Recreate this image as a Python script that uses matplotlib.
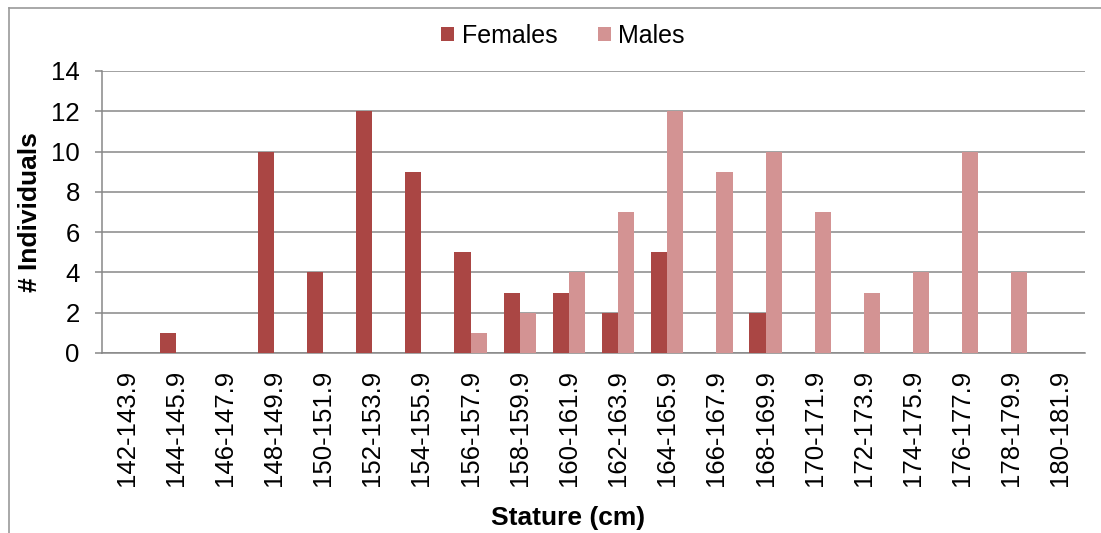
import numpy as np
import matplotlib
matplotlib.use("Agg")
import matplotlib.pyplot as plt
from matplotlib.lines import Line2D

plt.rcParams['font.family'] = ['Liberation Sans', 'DejaVu Sans']

# rangos de estatura (cm)
categorias = ["142-143.9", "144-145.9", "146-147.9", "148-149.9", "150-151.9",
              "152-153.9", "154-155.9", "156-157.9", "158-159.9", "160-161.9",
              "162-163.9", "164-165.9", "166-167.9", "168-169.9", "170-171.9",
              "172-173.9", "174-175.9", "176-177.9", "178-179.9", "180-181.9"]
mujeres = [0, 1, 0, 10, 4, 12, 9, 5, 3, 3, 2, 5, 0, 2, 0, 0, 0, 0, 0, 0]
hombres = [0, 0, 0, 0, 0, 0, 0, 1, 2, 4, 7, 12, 9, 10, 7, 3, 4, 10, 4, 0]
yticks = [0, 2, 4, 6, 8, 10, 12, 14]

color_f = '#AA4644'
color_m = '#D39393'
gris = '#878787'

W, H = 1101, 533
fig = plt.figure(figsize=(W / 100, H / 100), dpi=100)
ax = fig.add_axes([102 / W, 1 - 353 / H, (1085 - 102) / W, (353 - 71) / H])

x = np.arange(len(categorias))
ancho = 0.33
ax.bar(x - ancho / 2, mujeres, ancho, color=color_f, label='Females', zorder=3)
ax.bar(x + ancho / 2, hombres, ancho, color=color_m, label='Males', zorder=3)

ax.set_xlim(-0.5, len(categorias) - 0.5)
ax.set_ylim(0, 14)
ax.set_yticks(yticks)
ax.set_xticks(x)
ax.set_xticklabels(categorias, rotation=90, fontsize=18.5)
ax.tick_params(axis='y', labelsize=18.5, length=5, width=1.1, color=gris, pad=11)
ax.tick_params(axis='x', length=0, pad=12)
ax.grid(axis='y', color=gris, linewidth=1.1, zorder=0)
ax.set_axisbelow(True)

for s in ['top', 'right']:
    ax.spines[s].set_visible(False)
for s in ['left', 'bottom']:
    ax.spines[s].set_color(gris)
    ax.spines[s].set_linewidth(1.1)

# etiquetas de ejes
fig.text(568 / W, 1 - 518 / H, 'Stature (cm)', ha='center', va='center',
         fontsize=19, fontweight='bold')
fig.text(30 / W, 1 - 212 / H, '# Individuals', ha='center', va='center',
         rotation=90, fontsize=19, fontweight='bold')

# leyenda arriba
fig.legend(loc='center', bbox_to_anchor=(563 / W, 1 - 36 / H), ncol=2,
           frameon=False, fontsize=18, handlelength=0.52, handleheight=0.52,
           handletextpad=0.3, columnspacing=1.6)

# borde exterior (recortado abajo y a la derecha)
fig.add_artist(Line2D([9 / W, 1], [1 - 8 / H, 1 - 8 / H], color='#9a9a9a',
                      linewidth=1.2, transform=fig.transFigure))
fig.add_artist(Line2D([9 / W, 9 / W], [0, 1 - 8 / H], color='#9a9a9a',
                      linewidth=1.2, transform=fig.transFigure))

fig.savefig('out.png', dpi=100)
